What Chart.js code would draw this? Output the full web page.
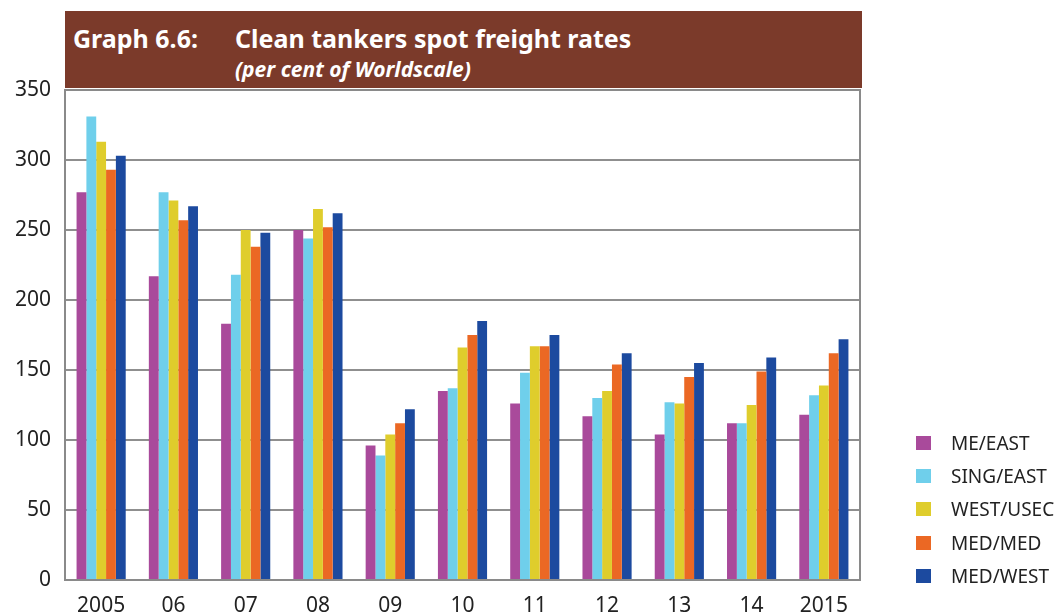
<!DOCTYPE html>
<html>
<head>
<meta charset="utf-8">
<script src="https://cdn.jsdelivr.net/npm/chart.js@4/dist/chart.umd.min.js"></script>
<style>
  html, body { margin: 0; padding: 0; background: #fff; }
  #wrap { position: relative; width: 1056px; height: 616px; font-family: 'Noto Sans', 'Open Sans', sans-serif; }
  #banner { position: absolute; left: 65px; top: 11px; width: 797px; height: 77px; background: #7b3a2a; color: #fff; }
  #banner .t { position: absolute; top: 10px; font-weight: bold; font-size: 25px; }
  #banner .s { position: absolute; left: 170px; top: 44px; font-weight: bold; font-style: italic; font-size: 21px; }
  #legend { position: absolute; left: 916px; top: 426px; }
  #legend .row { height: 33.3px; display: flex; align-items: center; font-size: 19px; color: #222; }
  #legend .sw { width: 15px; height: 14px; margin-right: 20px; }
</style>
</head>
<body>
<div id="wrap">
  <canvas id="freightChart" width="1056" height="616"></canvas>
  <div id="banner">
    <span class="t" style="left:8px">Graph 6.6:</span>
    <span class="t" style="left:170px">Clean tankers spot freight rates</span>
    <span class="s">(per cent of Worldscale)</span>
  </div>
  <div id="legend"></div>
</div>
<script>
const years = ['2005', '06', '07', '08', '09', '10', '11', '12', '13', '14', '2015'];
const meEast   = [277, 217, 183, 250,  96, 135, 126, 117, 104, 112, 118];
const singEast = [331, 277, 218, 244,  89, 137, 148, 130, 127, 112, 132];
const westUsec = [313, 271, 250, 265, 104, 166, 167, 135, 126, 125, 139];
const medMed   = [293, 257, 238, 252, 112, 175, 167, 154, 145, 149, 162];
const medWest  = [303, 267, 248, 262, 122, 185, 175, 162, 155, 159, 172];
const yTicks = [0, 50, 100, 150, 200, 250, 300, 350];

const series = [
  { label: 'ME/EAST', data: meEast, color: '#a94a9b' },
  { label: 'SING/EAST', data: singEast, color: '#6fcfeb' },
  { label: 'WEST/USEC', data: westUsec, color: '#dfcd2c' },
  { label: 'MED/MED', data: medMed, color: '#eb6824' },
  { label: 'MED/WEST', data: medWest, color: '#1c4a9f' }
];

// box round the plot area
const frame = {
  id: 'frame',
  afterDraw(chart) {
    const a = chart.chartArea, c = chart.ctx;
    c.save();
    c.strokeStyle = '#8a8a8a';
    c.lineWidth = 2;
    c.strokeRect(a.left, a.top, a.right - a.left, a.bottom - a.top);
    c.restore();
  }
};

const chart = new Chart(document.getElementById('freightChart'), {
  type: 'bar',
  data: {
    labels: years,
    datasets: series.map(s => ({
      label: s.label, data: s.data, backgroundColor: s.color,
      barPercentage: 1.0, categoryPercentage: 0.68
    }))
  },
  options: {
    responsive: false,
    animation: false,
    layout: { padding: { top: 90, right: 196, left: 0, bottom: 0 } },
    plugins: { legend: { display: false }, tooltip: { enabled: false } },
    scales: {
      x: {
        grid: { display: false },
        border: { display: false },
        ticks: { color: '#222', font: { size: 21, family: 'Noto Sans' }, padding: 5 },
        afterFit(scale) { scale.height = 36; }
      },
      y: {
        min: 0, max: 350,
        afterBuildTicks(scale) { scale.ticks = yTicks.map(v => ({ value: v })); },
        grid: { color: '#8f8f8f', lineWidth: 2, drawTicks: false },
        border: { display: false },
        ticks: { color: '#222', font: { size: 21, family: 'Noto Sans' }, padding: 14 },
        afterFit(scale) { scale.width = 65; }
      }
    }
  },
  plugins: [frame]
});

const legend = document.getElementById('legend');
series.forEach(s => {
  const row = document.createElement('div');
  row.className = 'row';
  row.innerHTML = '<span class="sw" style="background:' + s.color + '"></span>' + s.label;
  legend.appendChild(row);
});
</script>
</body>
</html>
